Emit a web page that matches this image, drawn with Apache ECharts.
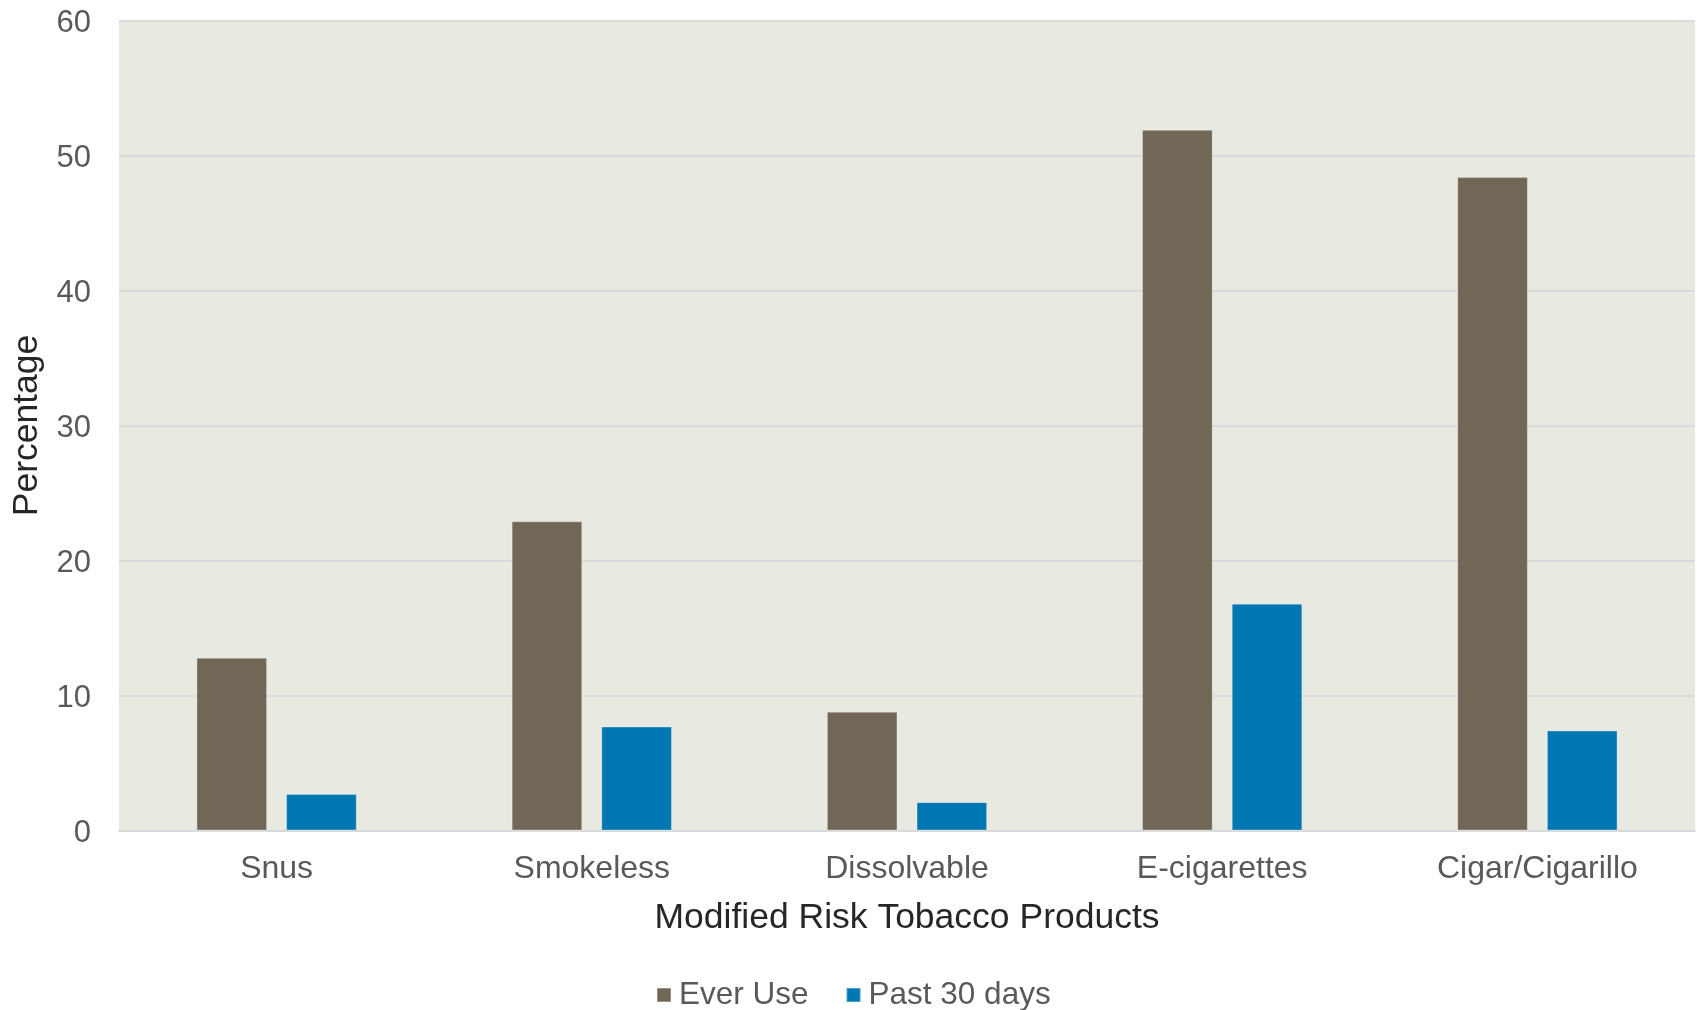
<!DOCTYPE html>
<html>
<head>
<meta charset="utf-8">
<title>Modified Risk Tobacco Products</title>
<script src="https://cdn.jsdelivr.net/npm/echarts@6/dist/echarts.min.js"></script>
<style>
  html, body { margin: 0; padding: 0; background: #ffffff; }
  #chart { width: 1697px; height: 1010px; }
</style>
</head>
<body>
<div id="chart"></div>
<script>
// Product categories along the x axis
var categories = ['Snus', 'Smokeless', 'Dissolvable', 'E-cigarettes', 'Cigar/Cigarillo'];

// Percentage who have ever used each product
var everUse = [12.8, 22.9, 8.8, 51.9, 48.4];

// Percentage who used each product in the past 30 days
var past30Days = [2.7, 7.7, 2.1, 16.8, 7.4];

// Series names shown in the legend
var seriesNames = ['Ever Use', 'Past 30 days'];

// Axis titles
var xAxisTitle = 'Modified Risk Tobacco Products';
var yAxisTitle = 'Percentage';

var FONT = '"Liberation Sans", Arial, Helvetica, sans-serif';
var TICK_COLOR = '#595959';
var TITLE_COLOR = '#262626';
var GRID_COLOR = '#D9D9D9';

var chart = echarts.init(document.getElementById('chart'), null, { renderer: 'canvas' });

chart.setOption({
  animation: false,
  backgroundColor: '#ffffff',
  grid: {
    left: 119,
    right: 2,
    top: 20.5,
    bottom: 179.5,
    show: true,
    backgroundColor: '#E8E9E0',
    borderWidth: 0
  },
  legend: {
    data: seriesNames,
    left: 651,
    top: 974,
    icon: 'rect',
    itemWidth: 14,
    itemHeight: 14,
    itemGap: 37,
    textStyle: {
      fontFamily: FONT,
      fontSize: 31.5,
      color: TICK_COLOR,
      lineHeight: 32,
      padding: [0, 0, 0, 3]
    }
  },
  xAxis: {
    type: 'category',
    data: categories,
    name: xAxisTitle,
    nameLocation: 'middle',
    nameGap: 70,
    nameTextStyle: {
      fontFamily: FONT,
      fontSize: 35.5,
      color: TITLE_COLOR
    },
    axisLine: { show: true, lineStyle: { color: GRID_COLOR, width: 2 } },
    axisTick: { show: false },
    axisLabel: {
      fontFamily: FONT,
      fontSize: 32,
      color: TICK_COLOR,
      margin: 23
    },
    splitLine: { show: false }
  },
  yAxis: {
    type: 'value',
    min: 0,
    max: 60,
    interval: 10,
    name: yAxisTitle,
    nameLocation: 'middle',
    nameGap: 67,
    nameTextStyle: {
      fontFamily: FONT,
      fontSize: 35.5,
      color: TITLE_COLOR
    },
    axisLine: { show: false },
    axisTick: { show: false },
    axisLabel: {
      margin: 28,
      formatter: '{v|{value}}',
      rich: {
        v: {
          fontFamily: FONT,
          fontSize: 31,
          color: TICK_COLOR,
          padding: [5, 0, 0, 0]
        }
      }
    },
    splitLine: { show: true, lineStyle: { color: GRID_COLOR, width: 2 } }
  },
  series: [
    {
      name: seriesNames[0],
      type: 'bar',
      data: everUse,
      barWidth: '22.4%',
      barGap: '27%',
      itemStyle: {
        color: '#706756',
        borderColor: 'rgba(255,255,255,0.3)',
        borderWidth: 1
      }
    },
    {
      name: seriesNames[1],
      type: 'bar',
      data: past30Days,
      barWidth: '22.4%',
      barGap: '27%',
      itemStyle: {
        color: '#0076B3',
        borderColor: 'rgba(255,255,255,0.3)',
        borderWidth: 1
      }
    }
  ]
});
</script>
</body>
</html>
